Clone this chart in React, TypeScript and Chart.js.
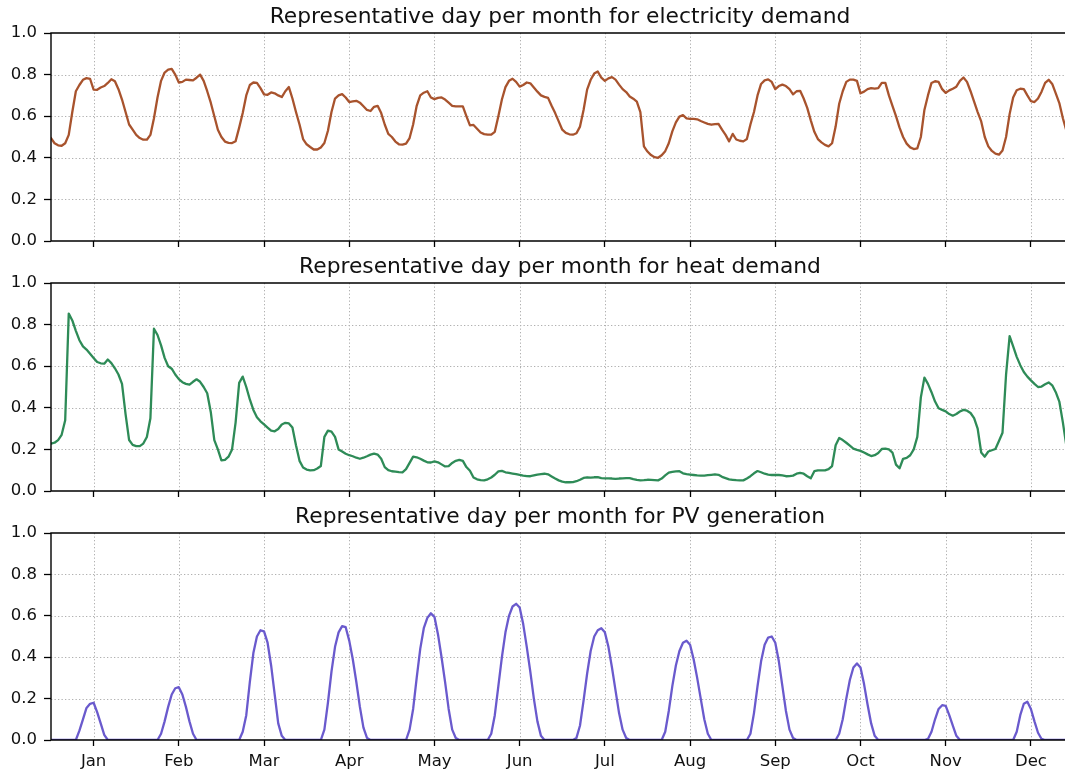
import React, { useEffect, useRef } from 'react';
import { Chart, registerables } from 'chart.js';

Chart.register(...registerables);

const MONTHS = ['Jan', 'Feb', 'Mar', 'Apr', 'May', 'Jun', 'Jul', 'Aug', 'Sep', 'Oct', 'Nov', 'Dec'];
const MONTH_TICKS = [12, 36, 60, 84, 108, 132, 156, 180, 204, 228, 252, 276];
const Y_TICKS = [0, 0.2, 0.4, 0.6, 0.8, 1.0];

const TITLES = [
  'Representative day per month for electricity demand',
  'Representative day per month for heat demand',
  'Representative day per month for PV generation',
];

// hourly values, 24 per representative day (Jan..Dec)
const ELECTRICITY = [
  0.495, 0.47, 0.46, 0.458, 0.47, 0.51, 0.62, 0.72, 0.75, 0.775, 0.783, 0.78, 0.728, 0.727, 0.738, 0.745, 0.76, 0.778, 0.768, 0.73, 0.68, 0.62, 0.56, 0.535,
  0.51, 0.495, 0.487, 0.487, 0.51, 0.59, 0.69, 0.77, 0.81, 0.824, 0.827, 0.8, 0.762, 0.765, 0.776, 0.774, 0.772, 0.785, 0.8, 0.77, 0.72, 0.665, 0.6, 0.535,
  0.5, 0.478, 0.472, 0.471, 0.48, 0.545, 0.615, 0.7, 0.75, 0.762, 0.76, 0.735, 0.705, 0.703, 0.714, 0.71, 0.7, 0.692, 0.72, 0.74, 0.685, 0.62, 0.56, 0.49,
  0.465, 0.452, 0.44, 0.44, 0.45, 0.471, 0.53, 0.62, 0.685, 0.7, 0.706, 0.69, 0.668, 0.671, 0.674, 0.665, 0.648, 0.63, 0.625, 0.645, 0.65, 0.615, 0.56, 0.515,
  0.5, 0.478, 0.465, 0.463, 0.468, 0.495, 0.56, 0.65, 0.7, 0.713, 0.72, 0.69, 0.682, 0.688, 0.69, 0.68, 0.665, 0.65, 0.647, 0.647, 0.647, 0.6, 0.556, 0.558,
  0.54, 0.522, 0.514, 0.511, 0.511, 0.525, 0.6, 0.68, 0.74, 0.77, 0.78, 0.765, 0.742, 0.75, 0.762, 0.758, 0.738, 0.718, 0.7, 0.693, 0.688, 0.65, 0.615, 0.575,
  0.535, 0.52, 0.513, 0.511, 0.518, 0.55, 0.63, 0.728, 0.775, 0.805, 0.815, 0.785, 0.77, 0.782, 0.788, 0.776, 0.752, 0.73, 0.716, 0.695, 0.684, 0.67, 0.62, 0.455,
  0.43, 0.413, 0.403, 0.4, 0.412, 0.432, 0.47, 0.527, 0.57, 0.598, 0.605, 0.59, 0.587, 0.587, 0.585, 0.577, 0.57, 0.563, 0.559, 0.562, 0.563, 0.535, 0.51, 0.479,
  0.515, 0.488, 0.482, 0.479, 0.49, 0.56, 0.62, 0.7, 0.755, 0.772, 0.777, 0.765, 0.73, 0.745, 0.752, 0.745, 0.73, 0.705, 0.72, 0.722, 0.685, 0.64, 0.58, 0.525,
  0.49, 0.474, 0.462, 0.455, 0.47, 0.55, 0.66, 0.72, 0.765, 0.776, 0.776, 0.77, 0.71, 0.718, 0.73, 0.735, 0.733, 0.735, 0.76, 0.76, 0.7, 0.65, 0.6, 0.545,
  0.5, 0.468, 0.45, 0.442, 0.445, 0.5, 0.63, 0.7, 0.76, 0.768, 0.765, 0.73, 0.712, 0.724, 0.732, 0.742, 0.77, 0.786, 0.765, 0.72, 0.67, 0.62, 0.575, 0.5,
  0.455, 0.433, 0.42, 0.415, 0.435, 0.5, 0.61, 0.69, 0.725, 0.732, 0.73, 0.7, 0.672, 0.668, 0.685, 0.718, 0.76, 0.775, 0.755, 0.71, 0.663, 0.59, 0.53, 0.5,
];

const HEAT = [
  0.228, 0.232, 0.245, 0.27, 0.34, 0.853, 0.82, 0.77, 0.725, 0.695, 0.68, 0.66, 0.64, 0.62, 0.614, 0.612, 0.632, 0.615, 0.59, 0.56, 0.515, 0.37, 0.245, 0.222,
  0.216, 0.216, 0.228, 0.26, 0.35, 0.78, 0.75, 0.7, 0.64, 0.6, 0.588, 0.56, 0.538, 0.523, 0.515, 0.511, 0.525, 0.537, 0.525, 0.5, 0.47, 0.38, 0.245, 0.2,
  0.147, 0.15, 0.165, 0.2, 0.33, 0.52, 0.55, 0.5, 0.44, 0.39, 0.355, 0.335, 0.32, 0.305, 0.29, 0.287, 0.298, 0.32, 0.328, 0.325, 0.305, 0.22, 0.145, 0.113,
  0.103, 0.099, 0.1, 0.108, 0.12, 0.26, 0.29, 0.285, 0.26, 0.2, 0.19, 0.179, 0.172, 0.167, 0.16, 0.155, 0.16, 0.167, 0.175, 0.18, 0.175, 0.155, 0.115, 0.1,
  0.095, 0.093, 0.091, 0.09, 0.105, 0.135, 0.165, 0.162, 0.155, 0.146, 0.138, 0.137, 0.142, 0.138, 0.128, 0.118, 0.12, 0.135, 0.145, 0.15, 0.145, 0.115, 0.097, 0.065,
  0.056, 0.052, 0.051, 0.056, 0.065, 0.078, 0.094, 0.097, 0.09, 0.087, 0.084, 0.081, 0.077, 0.074, 0.072, 0.071, 0.075, 0.079, 0.081, 0.083, 0.08, 0.07, 0.06, 0.051,
  0.045, 0.042, 0.042, 0.043, 0.047, 0.054, 0.063, 0.066, 0.064, 0.066, 0.067, 0.062, 0.061, 0.061, 0.06, 0.058, 0.06, 0.061, 0.062, 0.062, 0.057, 0.053, 0.051, 0.052,
  0.054, 0.053, 0.052, 0.051, 0.06, 0.075, 0.088, 0.092, 0.094, 0.095, 0.085, 0.081, 0.079, 0.077, 0.075, 0.074, 0.074, 0.076, 0.078, 0.08, 0.078, 0.068, 0.062, 0.056,
  0.054, 0.052, 0.051, 0.051, 0.06, 0.071, 0.085, 0.096, 0.09, 0.083, 0.079, 0.077, 0.077, 0.077, 0.075, 0.071, 0.072, 0.074, 0.083, 0.087, 0.083, 0.071, 0.061, 0.095,
  0.099, 0.099, 0.099, 0.105, 0.12, 0.22, 0.255, 0.245, 0.232, 0.218, 0.204, 0.198, 0.193, 0.185, 0.176, 0.168, 0.172, 0.183, 0.202, 0.204, 0.2, 0.185, 0.127, 0.109,
  0.155, 0.159, 0.172, 0.2, 0.26, 0.45, 0.545, 0.515, 0.475, 0.43, 0.398, 0.39, 0.383, 0.37, 0.362, 0.37, 0.382, 0.39, 0.386, 0.375, 0.35, 0.3, 0.185, 0.165,
  0.19, 0.196, 0.202, 0.24, 0.28, 0.56, 0.745, 0.695, 0.645, 0.605, 0.572, 0.55, 0.532, 0.515, 0.5, 0.502, 0.513, 0.522, 0.508, 0.475, 0.43, 0.33, 0.215, 0.2,
];

const PV = [
  0, 0, 0, 0, 0, 0, 0, 0, 0.045, 0.1, 0.155, 0.175, 0.18, 0.135, 0.08, 0.025, 0, 0, 0, 0, 0, 0, 0, 0,
  0, 0, 0, 0, 0, 0, 0, 0.03, 0.09, 0.16, 0.22, 0.25, 0.255, 0.22, 0.16, 0.09, 0.03, 0, 0, 0, 0, 0, 0, 0,
  0, 0, 0, 0, 0, 0, 0.04, 0.12, 0.28, 0.42, 0.5, 0.53, 0.525, 0.47, 0.36, 0.22, 0.08, 0.02, 0, 0, 0, 0, 0, 0,
  0, 0, 0, 0, 0, 0.05, 0.18, 0.33, 0.45, 0.52, 0.55, 0.545, 0.48, 0.39, 0.28, 0.16, 0.06, 0.01, 0, 0, 0, 0, 0, 0,
  0, 0, 0, 0, 0, 0.05, 0.15, 0.3, 0.44, 0.54, 0.59, 0.612, 0.595, 0.51, 0.4, 0.28, 0.15, 0.05, 0.01, 0, 0, 0, 0, 0,
  0, 0, 0, 0, 0.03, 0.12, 0.26, 0.4, 0.52, 0.6, 0.645, 0.658, 0.64, 0.56, 0.45, 0.33, 0.2, 0.09, 0.02, 0, 0, 0, 0, 0,
  0, 0, 0, 0, 0.01, 0.07, 0.19, 0.32, 0.43, 0.5, 0.53, 0.54, 0.52, 0.45, 0.35, 0.24, 0.13, 0.05, 0.01, 0, 0, 0, 0, 0,
  0, 0, 0, 0, 0, 0.04, 0.14, 0.26, 0.36, 0.43, 0.47, 0.48, 0.46, 0.39, 0.3, 0.2, 0.1, 0.03, 0, 0, 0, 0, 0, 0,
  0, 0, 0, 0, 0, 0.03, 0.13, 0.26, 0.38, 0.46, 0.495, 0.5, 0.47, 0.38, 0.26, 0.14, 0.05, 0.01, 0, 0, 0, 0, 0, 0,
  0, 0, 0, 0, 0, 0, 0.03, 0.1, 0.2, 0.29, 0.35, 0.37, 0.35, 0.27, 0.17, 0.08, 0.02, 0, 0, 0, 0, 0, 0, 0,
  0, 0, 0, 0, 0, 0, 0, 0.005, 0.04, 0.1, 0.15, 0.168, 0.165, 0.12, 0.07, 0.02, 0, 0, 0, 0, 0, 0, 0, 0,
  0, 0, 0, 0, 0, 0, 0, 0, 0.04, 0.12, 0.175, 0.185, 0.15, 0.09, 0.035, 0.005, 0, 0, 0, 0, 0, 0, 0, 0,
];

const SERIES = [ELECTRICITY, HEAT, PV];
const COLORS = ['#a8532d', '#2e8b57', '#6a5acd'];

const FONT = '"DejaVu Sans", "Liberation Sans", sans-serif';
const WIDTH = 1065;
const X_MAX = 285.6;
const AREA_TOP = 33;
const AREA_LEFT = 51;

const framePlugin = {
  id: 'frame',
  beforeDatasetsDraw(chart: any) {
    const { ctx, chartArea, scales } = chart;
    ctx.save();
    ctx.strokeStyle = '#b0b0b0';
    ctx.lineWidth = 1;
    ctx.setLineDash([1.3, 2.2]);
    MONTH_TICKS.forEach((v) => {
      const x = Math.round(scales.x.getPixelForValue(v)) + 0.5;
      ctx.beginPath();
      ctx.moveTo(x, chartArea.top);
      ctx.lineTo(x, chartArea.bottom);
      ctx.stroke();
    });
    Y_TICKS.slice(1, -1).forEach((v) => {
      const y = Math.round(scales.y.getPixelForValue(v)) + 0.5;
      ctx.beginPath();
      ctx.moveTo(chartArea.left, y);
      ctx.lineTo(chartArea.right, y);
      ctx.stroke();
    });
    ctx.restore();
  },
  afterDatasetsDraw(chart: any) {
    const { ctx, chartArea } = chart;
    const opts = chart.options.plugins.frame || {};
    ctx.save();
    ctx.strokeStyle = '#000';
    ctx.lineWidth = 1.4;
    ctx.setLineDash([]);
    ctx.beginPath();
    ctx.moveTo(chartArea.right + 2, chartArea.top);
    ctx.lineTo(chartArea.left, chartArea.top);
    ctx.lineTo(chartArea.left, chartArea.bottom);
    ctx.lineTo(chartArea.right + 2, chartArea.bottom);
    ctx.stroke();
    ctx.fillStyle = '#111';
    ctx.font = `21.8px ${FONT}`;
    ctx.textAlign = 'center';
    ctx.textBaseline = 'alphabetic';
    ctx.fillText(opts.title || '', 560, 23);
    ctx.restore();
  },
};

function Panel({ index, top, height, areaBottom }: { index: number; top: number; height: number; areaBottom: number }) {
  const ref = useRef<HTMLCanvasElement | null>(null);
  const showLabels = index === 2;

  useEffect(() => {
    if (!ref.current) return;
    const values = SERIES[index];
    const chart = new Chart(ref.current, {
      type: 'line',
      data: {
        datasets: [
          {
            data: values.map((v, i) => ({ x: i, y: v })),
            borderColor: COLORS[index],
            borderWidth: 2.3,
            pointRadius: 0,
            tension: 0,
            fill: false,
            borderJoinStyle: 'round',
            borderCapStyle: 'round',
          },
        ],
      },
      options: {
        animation: false,
        responsive: false,
        devicePixelRatio: 1,
        layout: { padding: { top: AREA_TOP, left: 0, right: 0, bottom: 0 } },
        plugins: {
          legend: { display: false },
          tooltip: { enabled: false },
          title: { display: false },
          frame: { title: TITLES[index] },
        } as any,
        scales: {
          x: {
            type: 'linear',
            min: 0,
            max: X_MAX,
            afterBuildTicks: (s: any) => {
              s.ticks = MONTH_TICKS.map((v) => ({ value: v }));
            },
            afterFit: (s: any) => {
              s.height = height - areaBottom;
            },
            grid: {
              display: true,
              drawOnChartArea: false,
              drawTicks: true,
              tickLength: 6,
              tickColor: '#000',
              tickWidth: 1.3,
              color: '#000',
            },
            border: { display: false },
            ticks: {
              display: showLabels,
              autoSkip: false,
              maxRotation: 0,
              minRotation: 0,
              padding: 6,
              color: '#111',
              font: { family: FONT, size: 16.5 },
              callback: (v: any) => {
                const k = MONTH_TICKS.indexOf(Math.round(Number(v)));
                return k >= 0 ? MONTHS[k] : '';
              },
            },
          },
          y: {
            type: 'linear',
            min: 0,
            max: 1,
            afterBuildTicks: (s: any) => {
              s.ticks = Y_TICKS.map((v) => ({ value: v }));
            },
            afterFit: (s: any) => {
              s.width = AREA_LEFT;
            },
            grid: {
              display: true,
              drawOnChartArea: false,
              drawTicks: true,
              tickLength: 7,
              tickColor: '#000',
              tickWidth: 1.3,
              color: '#000',
            },
            border: { display: false },
            ticks: {
              padding: 7,
              color: '#111',
              font: { family: FONT, size: 16.5 },
              callback: (v: any) => Number(v).toFixed(1),
            },
          },
        },
      },
      plugins: [framePlugin],
    } as any);
    return () => chart.destroy();
  }, [index, height, areaBottom, showLabels]);

  return (
    <canvas
      ref={ref}
      width={WIDTH}
      height={height}
      style={{ position: 'absolute', left: 0, top, width: WIDTH, height, display: 'block' }}
    />
  );
}

export default function App() {
  return (
    <div
      style={{
        position: 'absolute',
        left: 0,
        top: 0,
        width: WIDTH,
        height: 776,
        background: '#fff',
        overflow: 'hidden',
      }}
    >
      <Panel index={0} top={0} height={262} areaBottom={241} />
      <Panel index={1} top={250} height={262} areaBottom={241} />
      <Panel index={2} top={500} height={276} areaBottom={240} />
    </div>
  );
}
